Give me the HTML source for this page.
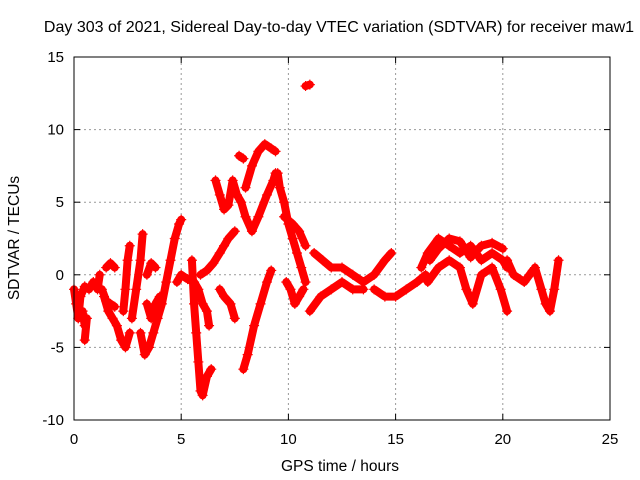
<!DOCTYPE html>
<html><head><meta charset="utf-8"><style>
body{margin:0;background:#fff}
svg{display:block;font-family:"Liberation Sans",sans-serif}
</style></head><body>
<svg id="c" width="640" height="480">
<text x="339" y="32" text-anchor="middle" font-size="16">Day 303 of 2021, Sidereal Day-to-day VTEC variation (SDTVAR) for receiver maw1</text>
<text x="340" y="471" text-anchor="middle" font-size="15.5">GPS time / hours</text>
<text transform="translate(19,238) rotate(-90)" text-anchor="middle" font-size="15.5">SDTVAR / TECUs</text>
<g id="grid"></g><g id="marks"></g>
<rect x="74" y="57" width="536" height="363" fill="none" stroke="#000"/>
</svg>
<script>
const xTicks=[0,5,10,15,20,25];
const yTicks=[-10,-5,0,5,10,15];
const segA=[[0,-1],[0.1,-2],[0.2,-3],[0.3,-1.5],[0.5,-0.8],[0.7,-1],[0.9,-0.5],[1.1,-1],[1.2,0]];
const segB=[[0.4,-2.5],[0.5,-3.5],[0.6,-3],[0.5,-4.5]];
const segC=[[1.4,-1.5],[1.6,-2.5],[1.8,-3],[2.0,-3.5],[2.2,-4.5],[2.4,-5],[2.6,-4]];
const segC2=[[1.3,-1],[1.5,-1.8],[1.7,-2],[1.9,-2.2]];
const segD=[[1.5,0.5],[1.7,0.8],[1.9,0.5]];
const segE=[[2.3,-2.5],[2.4,-1],[2.5,1],[2.6,2]];
const segF=[[2.7,-3],[2.9,-1],[3.1,1],[3.2,2.8]];
const segG=[[3.1,-4],[3.3,-5.5],[3.5,-5],[3.7,-4],[3.9,-3],[4.1,-2],[4.3,-0.5],[4.5,1],[4.7,2.5],[4.9,3.5],[5.0,3.8]];
const segH=[[3.4,-2],[3.6,-3],[3.8,-2],[4.0,-1.5]];
const segH2=[[3.4,0],[3.6,0.8],[3.8,0.5]];
const segI=[[4.8,-0.5],[5.0,0],[5.3,-0.3],[5.6,-0.5],[5.8,-1],[6.0,-2],[6.2,-2.5],[6.3,-3.5]];
const segJ=[[5.5,1],[5.6,-2],[5.7,-4],[5.8,-6],[5.9,-8],[6.0,-8.3],[6.2,-7],[6.4,-6.5]];
const segK=[[5.9,0],[6.2,0.3],[6.5,0.8],[6.8,1.5],[7.0,2],[7.2,2.5],[7.5,3]];
const segL=[[6.6,6.5],[6.8,5.5],[7.0,4.5],[7.2,4.8],[7.4,6.5],[7.6,5.5],[7.8,5],[8.0,4],[8.3,3],[8.6,4],[9.0,5.5],[9.3,6.5],[9.4,7]];
const segM=[[8.0,6],[8.3,7.5],[8.6,8.5],[8.9,9],[9.2,8.7],[9.4,8.5]];
const segN=[[7.7,8.2],[7.9,8]];
const segO=[[6.8,-1],[7.0,-1.5],[7.3,-2],[7.5,-3]];
const segP=[[7.9,-6.5],[8.1,-5.5],[8.4,-3.5],[8.7,-2],[9.0,-0.5],[9.2,0.3]];
const segQ=[[9.5,7],[9.6,6],[9.8,5],[10.0,3.5],[10.2,2.5],[10.4,1.5],[10.6,0.5],[10.8,-0.5]];
const segQ2=[[9.8,4],[10.2,3.5],[10.5,3],[10.8,2]];
const segR=[[9.9,-0.5],[10.1,-1],[10.3,-2],[10.5,-1.5],[10.7,-1]];
const segS=[[10.8,13],[11.0,13.1]];
const segT=[[11.0,-2.5],[11.5,-1.5],[12,-1],[12.5,-0.5],[13,-1],[13.5,-1]];
const segU=[[11.2,1.5],[11.6,1],[12,0.5],[12.5,0.5],[13,0],[13.5,-0.5],[14,0],[14.5,1],[14.8,1.5]];
const segV=[[14,-1],[14.5,-1.5],[15,-1.5],[15.5,-1],[16,-0.5],[16.4,0]];
const segW=[[16.2,0.5],[16.5,1.5],[17,2.5],[17.5,2],[18,1.5],[18.5,2],[19,1],[19.5,1.5],[20,1],[20.2,0.5]];
const segW2=[[16.6,1],[17,1.8],[17.5,2.5],[18,2.3],[18.5,1.2],[19,2],[19.5,2.2],[20,1.8]];
const segX=[[16.5,-0.5],[17,0.5],[17.5,1],[18,0.5],[18.3,-1],[18.6,-2],[19,0],[19.5,0.5],[19.9,-1],[20.2,-2.5]];
const segY=[[20.2,1],[20.5,0],[21,-0.5],[21.4,0.3]];
const segZ=[[21.5,0.5],[21.8,-1],[22,-2],[22.2,-2.5],[22.4,-1],[22.6,1]];
const series=[segA,segB,segC,segC2,segD,segE,segF,segG,segH,segH2,segI,segJ,segK,segL,segM,segN,segO,segP,segQ,segQ2,segR,segS,segT,segU,segV,segW,segW2,segX,segY,segZ];
const X0=74,X1=610,Y0=420,Y1=57;
const sx=v=>X0+(v-0)/25*(X1-X0);
const sy=v=>Y0-(v+10)/25*(Y0-Y1);
const NS="http://www.w3.org/2000/svg";
const grid=document.getElementById('grid'),marks=document.getElementById('marks'),svg=document.getElementById('c');
function mk(t,a,p){const e=document.createElementNS(NS,t);for(const k in a)e.setAttribute(k,a[k]);p.appendChild(e);return e;}
xTicks.forEach(t=>{const x=sx(t);
 if(t>0&&t<25){const g=mk('line',{x1:x,x2:x,y1:Y0,y2:Y1,stroke:'#999','stroke-dasharray':'2,3'},grid);
 
 }
 mk('line',{x1:x,x2:x,y1:Y0,y2:Y0-6,stroke:'#000'},grid);mk('line',{x1:x,x2:x,y1:Y1,y2:Y1+6,stroke:'#000'},grid);
 const l=mk('text',{x:x,y:Y0+24,'text-anchor':'middle','font-size':15},svg);l.textContent=t;
 
 });
yTicks.forEach(t=>{const y=sy(t);
 if(t>-10&&t<15){const g=mk('line',{x1:X0,x2:X1,y1:y,y2:y,stroke:'#999','stroke-dasharray':'2,3'},grid);
 
 }
 mk('line',{x1:X0,x2:X0+6,y1:y,y2:y,stroke:'#000'},grid);mk('line',{x1:X1,x2:X1-6,y1:y,y2:y,stroke:'#000'},grid);
 const l=mk('text',{x:X0-10,y:y+5,'text-anchor':'end','font-size':15},svg);l.textContent=t;
 
 });
series.forEach(s=>{
 const pl=mk('polyline',{points:s.map(p=>sx(p[0])+','+sy(p[1])).join(' '),fill:'none',stroke:'#f00','stroke-width':8,'stroke-linejoin':'round','stroke-linecap':'round'},marks);
 
 
 s.forEach(p=>{const x=sx(p[0]),y=sy(p[1]);
  const m=mk('path',{d:`M${x-5},${y}H${x+5}M${x},${y-5}V${y+5}`,stroke:'#f00','stroke-width':1.2},marks);
  
  });
});
</script>
</body></html>
